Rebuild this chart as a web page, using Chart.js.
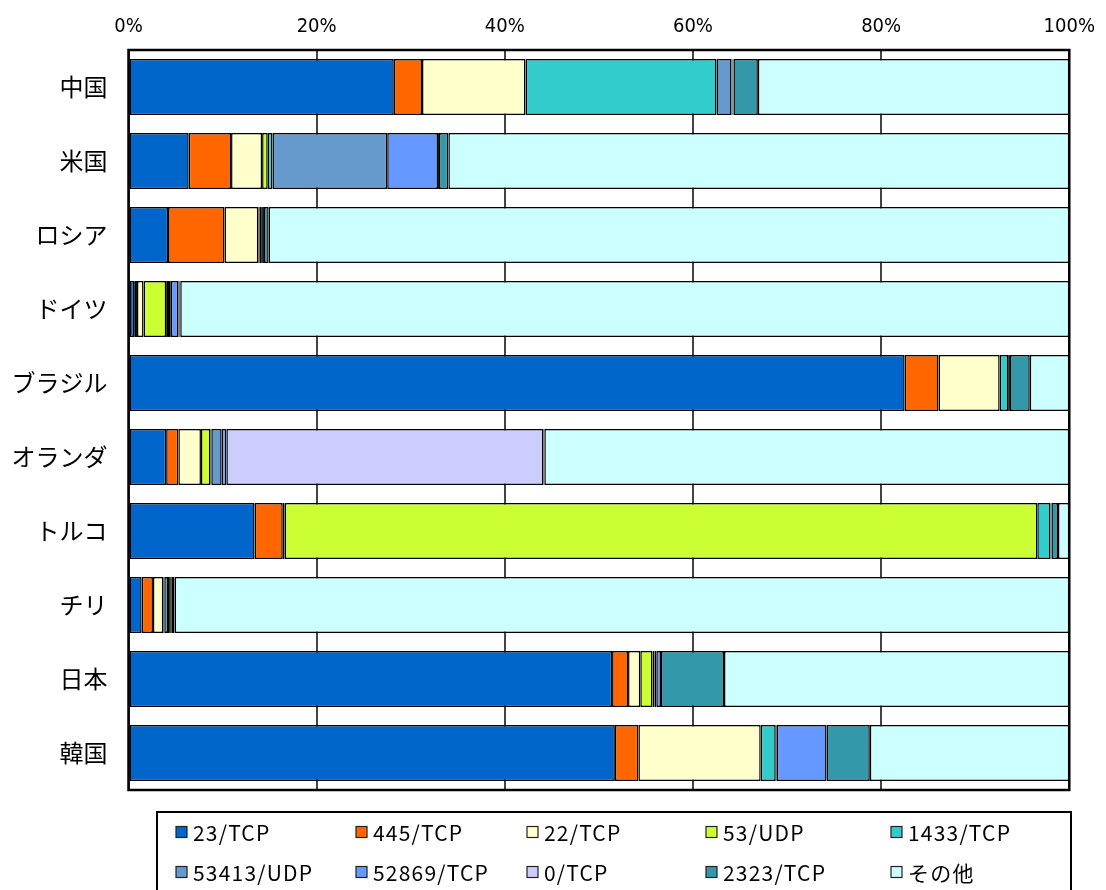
<!DOCTYPE html>
<html>
<head>
<meta charset="utf-8">
<script src="https://cdn.jsdelivr.net/npm/chart.js@4/dist/chart.umd.min.js"></script>
<style>
  html, body { margin: 0; padding: 0; background: #fff; }
  #wrap { position: relative; width: 1106px; height: 890px; }
</style>
</head>
<body>
<div id="wrap"><canvas id="c" width="1106" height="890"></canvas></div>
<script>
// Countries (rows, top to bottom)
const countries = ['中国', '米国', 'ロシア', 'ドイツ', 'ブラジル', 'オランダ', 'トルコ', 'チリ', '日本', '韓国'];

// Share of each port per country (%)
const port23tcp    = [28.2,  6.4,  4.2, 0.6, 82.5,  4.0, 13.4, 1.4, 51.4, 51.7];
const port445tcp   = [ 3.0,  4.5,  6.0, 0.3,  3.6,  1.3,  3.0, 1.2,  1.7,  2.5];
const port22tcp    = [11.0,  3.3,  3.6, 0.7,  6.5,  2.4,  0.2, 1.1,  1.3, 13.0];
const port53udp    = [ 0.0,  0.6,  0.1, 2.4,  0.0,  1.0, 80.0, 0.1,  1.3,  0.0];
const port1433tcp  = [20.3,  0.5,  0.2, 0.2,  0.9,  0.1,  1.4, 0.4,  0.2,  1.6];
const port53413udp = [ 1.6, 12.2,  0.1, 0.3,  0.1,  1.1,  0.1, 0.2,  0.2,  0.1];
const port52869tcp = [ 0.1,  5.4,  0.1, 0.8,  0.1,  0.5,  0.0, 0.1,  0.5,  5.3];
const port0tcp     = [ 0.1,  0.1,  0.1, 0.1,  0.0, 33.7,  0.0, 0.1,  0.0,  0.0];
const port2323tcp  = [ 2.6,  1.0,  0.5, 0.1,  2.1,  0.1,  0.7, 0.3,  6.7,  4.6];
const portOther    = [33.1, 66.0, 85.1, 94.5,  4.2, 55.8,  1.2, 95.1, 36.7, 21.2];

// Series names and fills
const seriesNames  = ['23/TCP', '445/TCP', '22/TCP', '53/UDP', '1433/TCP', '53413/UDP', '52869/TCP', '0/TCP', '2323/TCP', 'その他'];
const seriesColors = ['#0066CC', '#FF6600', '#FFFFCC', '#CCFF33', '#33CCCC', '#6699CC', '#6699FF', '#CCCCFF', '#3399AA', '#CCFFFF'];
const seriesValues = [port23tcp, port445tcp, port22tcp, port53udp, port1433tcp, port53413udp, port52869tcp, port0tcp, port2323tcp, portOther];

// Axis ticks
const xTicks = [0, 20, 40, 60, 80, 100];

const datasets = seriesNames.map((name, i) => ({
  label: name,
  data: seriesValues[i],
  backgroundColor: seriesColors[i],
  borderColor: '#000',
  borderWidth: 1.5,
  borderSkipped: false,
  categoryPercentage: 1.0,
  barPercentage: 0.757
}));

// Frame round the plot area
const framePlugin = {
  id: 'frame',
  afterDatasetsDraw(chart) {
    const { ctx, chartArea: a } = chart;
    ctx.save();
    ctx.strokeStyle = '#000';
    ctx.lineWidth = 2.5;
    ctx.strokeRect(a.left, a.top, a.right - a.left, a.bottom - a.top);
    ctx.restore();
  }
};

// Boxed legend in two rows of five
const legendPlugin = {
  id: 'boxLegend',
  afterDraw(chart) {
    const { ctx } = chart;
    const colX = [176, 356, 527, 706, 891];
    const rowY = [832, 872];
    ctx.save();
    ctx.fillStyle = '#fff';
    ctx.strokeStyle = '#000';
    ctx.lineWidth = 2;
    ctx.fillRect(157, 812, 914, 90);
    ctx.strokeRect(157, 812, 914, 90);
    ctx.font = '21px "Noto Sans CJK JP", "DejaVu Sans", sans-serif';
    ctx.letterSpacing = '1.2px';
    ctx.textBaseline = 'middle';
    chart.data.datasets.forEach((ds, i) => {
      const x = colX[i % 5];
      const y = rowY[Math.floor(i / 5)];
      ctx.fillStyle = ds.backgroundColor;
      ctx.fillRect(x, y - 5.5, 11, 11);
      ctx.lineWidth = 1.2;
      ctx.strokeStyle = '#222';
      ctx.strokeRect(x, y - 5.5, 11, 11);
      ctx.fillStyle = '#000';
      ctx.fillText(ds.label, x + 17, y + 1);
    });
    ctx.restore();
  }
};

new Chart(document.getElementById('c'), {
  type: 'bar',
  data: { labels: countries, datasets },
  options: {
    indexAxis: 'y',
    responsive: false,
    animation: false,
    layout: { padding: { top: 0, right: 28, bottom: 100, left: 0 } },
    plugins: {
      legend: { display: false },
      tooltip: { enabled: false }
    },
    scales: {
      x: {
        position: 'top',
        stacked: true,
        min: 0,
        max: 100,
        afterBuildTicks(axis) { axis.ticks = xTicks.map(v => ({ value: v })); },
        afterFit(axis) { axis.height = 50; },
        grid: { color: '#444', lineWidth: 2, drawTicks: false },
        border: { display: false },
        ticks: {
          padding: 11,
          color: '#000',
          font: { family: '"DejaVu Sans Condensed", "Liberation Sans", sans-serif', size: 20 },
          callback: v => v + '%'
        }
      },
      y: {
        stacked: true,
        afterFit(axis) { axis.width = 128.5; },
        grid: { display: false, drawTicks: false },
        border: { display: false },
        ticks: {
          padding: 21,
          color: '#000',
          font: { family: '"Noto Sans CJK JP", sans-serif', size: 24 }
        }
      }
    }
  },
  plugins: [framePlugin, legendPlugin]
});
</script>
</body>
</html>
